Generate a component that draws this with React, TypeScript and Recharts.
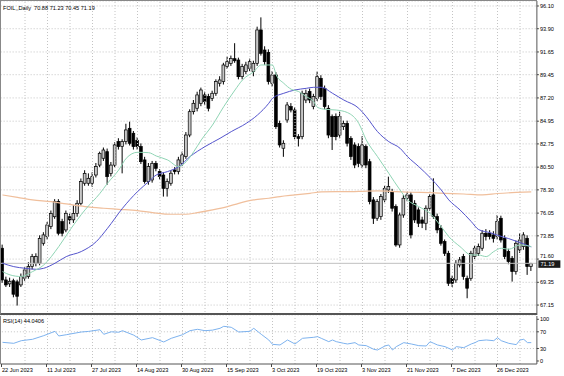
import React from 'react';
import { ComposedChart, Bar, Line, XAxis, YAxis, CartesianGrid, ReferenceLine } from 'recharts';

const opens = [72.65,69.58,69.2,69.5,69.4,69.1,69.75,69.9,70.87,71.2,71.2,73.13,73.8,74.74,75.7,77.16,75.23,74.42,75.7,75.4,76.0,77.0,78.94,78.94,78.94,79.74,80.7,81.36,82.0,79.9,80.7,82.97,82.49,82.97,84.26,83.78,83.1,82.49,81.2,79.1,79.26,80.87,80.07,79.74,78.45,78.94,80.23,80.07,80.87,81.52,83.61,85.87,86.2,86.68,87.49,87.33,87.16,87.65,88.62,88.78,90.23,90.55,91.0,90.87,89.26,89.75,90.07,89.75,90.55,93.78,91.84,91.6,88.62,89.42,84.74,82.33,85.07,86.36,86.03,83.45,83.45,87.0,87.81,86.36,87.16,89.1,88.13,86.2,85.39,85.39,83.61,84.42,84.74,83.29,82.65,82.49,80.71,82.49,81.03,77.33,75.55,75.71,77.33,78.29,78.13,76.68,72.97,75.87,77.49,77.81,77.0,76.36,75.39,75.07,76.52,77.81,75.71,74.58,73.29,72.16,69.74,69.58,71.03,71.84,69.74,69.74,71.84,72.16,72.65,74.1,74.1,73.94,73.78,75.55,73.61,72.33,71.68,70.39,72.49,72.81,73.61,70.88];
const highs = [73.0,69.9,69.8,69.7,69.6,70.2,70.8,71.3,72.1,72.16,73.9,74.2,75.2,76.3,77.4,77.4,75.5,76.3,76.0,76.8,77.3,79.4,80.2,79.9,80.0,80.9,82.0,82.4,82.3,81.0,82.9,83.3,83.2,84.7,84.9,84.0,83.4,82.8,81.5,80.9,81.1,81.1,80.3,80.0,79.4,80.2,80.5,81.5,82.0,83.9,86.1,87.0,87.8,88.2,87.8,87.6,87.9,89.0,89.3,90.6,91.2,91.3,92.5,91.1,90.5,90.7,91.0,90.8,94.1,95.0,92.2,91.9,89.8,89.7,85.0,83.1,86.8,86.7,86.3,83.7,87.9,88.0,88.1,87.6,89.75,89.4,88.4,86.5,85.6,85.7,85.87,85.0,85.0,83.5,82.9,82.8,83.5,82.7,81.3,77.6,77.4,77.9,78.7,79.58,78.4,76.9,76.1,77.8,78.1,78.1,77.3,76.6,75.7,76.8,77.9,79.42,76.0,74.9,73.5,72.4,70.0,71.5,71.8,72.1,70.0,72.4,72.9,73.1,74.4,74.5,74.4,74.3,75.87,75.8,73.9,72.6,71.9,73.4,74.1,74.2,73.9,71.23];
const lows = [69.3,68.9,68.9,67.9,67.1,68.9,69.5,69.7,70.6,70.9,71.0,72.9,73.5,74.5,75.5,73.9,73.8,74.2,75.0,75.1,75.7,76.8,78.7,78.7,78.6,79.5,80.5,81.1,78.8,79.6,80.5,82.2,79.9,82.7,82.6,82.2,82.2,80.8,78.9,78.8,79.0,80.1,79.3,77.65,77.65,78.7,79.8,79.8,80.6,81.3,83.4,85.6,85.9,86.4,86.5,85.9,86.9,87.4,88.3,88.5,90.0,90.3,90.6,89.0,89.0,89.5,89.8,89.3,90.3,91.3,90.4,88.5,88.3,84.2,82.4,81.5,84.8,85.8,83.2,82.5,83.2,86.7,86.7,86.1,86.9,87.0,86.1,83.3,82.16,83.1,83.3,84.1,82.5,81.2,80.4,80.5,80.4,80.4,76.9,75.0,75.3,75.4,77.1,78.0,76.2,72.8,72.7,75.6,77.2,73.6,75.1,74.7,74.6,74.4,76.3,75.5,74.1,72.9,71.9,69.0,68.9,69.3,70.8,69.6,67.81,69.5,71.6,71.9,72.4,73.4,73.5,73.2,73.5,73.2,71.6,71.1,69.42,70.1,72.2,72.5,70.07,70.45];
const closes = [69.58,69.1,69.45,68.2,68.0,69.9,70.55,70.87,71.84,71.84,73.6,73.94,74.9,76.0,77.16,74.1,74.1,76.03,75.4,76.0,77.0,79.1,79.9,79.42,79.58,80.55,81.84,82.16,79.58,80.7,82.65,82.49,82.97,84.1,82.81,82.49,82.49,81.03,79.1,80.55,80.87,80.39,79.58,78.45,79.1,79.91,80.07,81.2,81.68,83.61,85.87,86.68,87.49,87.97,86.84,86.2,87.65,88.78,88.94,90.39,90.71,91.03,90.8,89.26,90.23,90.39,90.71,90.55,93.78,91.52,90.71,88.78,89.42,84.42,82.65,82.81,86.52,86.03,83.45,83.29,87.65,87.65,87.0,87.33,89.26,87.33,86.36,83.61,83.45,83.45,85.39,84.74,82.81,81.52,80.71,80.87,82.65,80.71,77.16,75.55,77.16,77.65,78.45,78.62,76.52,72.97,75.87,77.49,77.81,73.94,75.39,75.07,75.07,76.52,77.65,75.71,74.42,73.13,72.16,69.26,69.26,71.2,71.52,69.91,68.78,72.16,72.65,72.81,74.1,73.78,73.78,73.61,75.23,73.45,71.84,71.36,70.39,73.13,73.45,73.94,70.87,71.19];

// moving averages read at sample bars: [bar index, value]
const maFast = [[0,70.39],[2,70.07],[5,69.91],[8,70.39],[11,71.03],[15,72.81],[18,74.42],[22,76.36],[26,77.97],[28,78.94],[31,80.23],[33,81.36],[36,81.94],[39,81.9],[41,81.58],[44,81.2],[47,80.55],[49,81.03],[51,82.0],[53,83.13],[56,84.58],[59,86.36],[62,87.97],[64,88.94],[67,89.75],[69,90.39],[72,90.39],[73,89.42],[75,88.62],[77,88.04],[79,87.81],[81,87.33],[83,86.84],[84,86.29],[86,86.1],[89,86.03],[92,85.78],[95,84.74],[97,83.13],[100,81.52],[103,79.91],[106,78.29],[108,77.33],[111,76.68],[114,76.03],[117,74.74],[119,73.78],[122,72.81],[125,72.0],[127,71.99],[129,71.84],[131,72.33],[133,72.65],[135,72.55],[138,72.97],[141,72.81]];
const maMid = [[0,71.2],[3,70.87],[6,70.71],[9,70.61],[11,70.71],[14,71.2],[17,71.84],[21,72.33],[25,73.29],[28,74.58],[32,76.52],[36,78.13],[39,79.1],[41,79.74],[44,80.07],[47,80.55],[50,81.52],[54,82.49],[58,83.29],[61,83.94],[65,84.74],[68,85.55],[71,86.68],[72,87.16],[75,87.65],[78,87.97],[81,88.13],[83,88.23],[85,88.23],[88,87.65],[91,87.0],[95,86.2],[97,85.39],[100,83.94],[103,82.97],[106,82.33],[108,81.52],[111,80.55],[114,79.5],[117,78.29],[119,77.33],[122,76.36],[125,75.23],[127,74.45],[130,74.16],[132,73.91],[135,73.58],[138,73.2],[141,72.78]];
const maSlow = [[0,77.81],[4,77.58],[8,77.33],[13,77.16],[17,76.94],[22,76.68],[27,76.52],[31,76.42],[36,76.29],[40,76.1],[45,75.94],[49,75.94],[52,76.1],[56,76.36],[60,76.68],[63,77.0],[67,77.33],[71,77.49],[74,77.65],[78,77.81],[82,77.97],[85,78.1],[89,78.13],[93,78.13],[96,78.16],[100,78.2],[105,78.13],[109,78.07],[114,78.03],[118,77.97],[123,77.9],[128,77.81],[132,77.95],[137,78.05],[141,78.1]];
const rsi14 = [[0,44.8],[3,42.4],[5,48.7],[8,52],[11,60.8],[14,71.2],[15,60],[17,63],[21,69.5],[23,71],[26,75],[27,64],[29,70],[31,69],[32,72.7],[35,62],[37,50.4],[40,56],[43,45.6],[45,54.4],[48,63],[50,72.7],[52,76],[54,72.7],[56,74],[58,78.4],[59,83.2],[61,80.8],[63,69.5],[66,71.2],[67,78.4],[69,64],[71,50.4],[72,40],[74,38.4],[76,50.4],[78,40.8],[80,54.4],[83,56.8],[84,58.4],[85,54.4],[87,46.4],[88,50.4],[89,46.4],[91,42.4],[92,40.8],[94,44],[95,38.4],[97,36.8],[99,28],[100,26.4],[102,36],[103,38.4],[104,26.4],[105,34.4],[107,44],[109,40.8],[111,36.8],[113,36],[114,46.4],[115,42.4],[116,38.4],[118,34.4],[120,26.4],[121,34.4],[123,32],[125,40.8],[126,44],[127,48.7],[129,50.4],[131,48.7],[132,56],[133,48.7],[135,42.4],[137,39.2],[138,50.4],[139,52],[140,44],[141,44.04]];

const priceTicks = [96.10, 93.90, 91.65, 89.45, 87.20, 84.95, 82.75, 80.50, 78.30, 76.05, 73.85, 71.60, 69.35, 67.15];
const rsiTicks = [100, 70, 30, 0];
const dateLabels = ['22 Jun 2023', '11 Jul 2023', '27 Jul 2023', '14 Aug 2023', '30 Aug 2023', '15 Sep 2023', '3 Oct 2023', '19 Oct 2023', '3 Nov 2023', '21 Nov 2023', '7 Dec 2023', '26 Dec 2023'];
const lastPrice = 71.19;
const headerText = 'FOIL,,Daily  70.88 71.23 70.45 71.19';
const rsiText = 'RSI(14) 44.0406';

const FONT = '"Liberation Sans", Arial, sans-serif';
const FS = 5.6;
const GRID = '#c4c4c4';

const N = opens.length + 1;
const data: any[] = Array.from({ length: N }, (_, i) => ({
  i,
  open: opens[i],
  high: highs[i],
  low: lows[i],
  close: closes[i],
  range: i < opens.length ? [lows[i], highs[i]] : null,
  fast: null, mid: null, slow: null, rsi: null,
}));
maFast.forEach(([i, v]) => { data[i].fast = v; });
maMid.forEach(([i, v]) => { data[i].mid = v; });
maSlow.forEach(([i, v]) => { data[i].slow = v; });
rsi14.forEach(([i, v]) => { data[i].rsi = v; });

const dateTicks = dateLabels.map((_, k) => k * 12);
const gridIdx: number[] = [];
for (let i = 6; i < N; i += 6) gridIdx.push(i);

const Candle = (props: any) => {
  const { x, y, width, height, payload } = props;
  if (!payload || payload.open == null) return null;
  const { open, close, high, low } = payload;
  const k = height / (high - low);
  const yo = y + (high - open) * k;
  const yc = y + (high - close) * k;
  const cx = x + width / 2;
  const bull = close >= open;
  const top = Math.min(yo, yc);
  const bh = Math.max(Math.abs(yc - yo), 1);
  return (
    <g>
      <line x1={cx} x2={cx} y1={y} y2={y + height} stroke="#000" strokeWidth={1} />
      <rect x={cx - 1.4} y={top} width={2.8} height={bh} fill={bull ? '#c8c8c8' : '#000'} stroke="#000" strokeWidth={0.7} />
    </g>
  );
};

const LastLabel = (props: any) => {
  const vb = props.viewBox || {};
  const x = (vb.x || 0) + (vb.width || 0);
  const y = vb.y || 0;
  return (
    <g>
      <rect x={x + 1.5} y={y - 3} width={22} height={7.5} fill="#1a1a1a" />
      <text x={x + 3.5} y={y + 0.9} dy="0.36em" fill="#fff" fontSize={FS} fontFamily={FONT}>{lastPrice.toFixed(2)}</text>
    </g>
  );
};

const DateTick = (props: any) => {
  const { x, y, payload } = props;
  const k = dateTicks.indexOf(payload.value);
  if (k < 0) return null;
  return (
    <g>
      <line x1={x - 1} x2={x - 1} y1={y} y2={y + 3} stroke="#444" strokeWidth={1} />
      <text x={x - 0.5} y={y + 6} dy="0.36em" fontSize={FS} fontFamily={FONT} fill="#000" textAnchor="start">{dateLabels[k]}</text>
    </g>
  );
};

const PriceTick = (props: any) => {
  const { x, y, payload } = props;
  const v = Number(payload.value);
  const nudge = Math.abs(v - lastPrice) < 0.6 ? -2.6 : 0;
  return (
    <text x={x} y={y + nudge} dy="0.36em" fontSize={FS} fontFamily={FONT} fill="#000" textAnchor="start">{v.toFixed(2)}</text>
  );
};

const RsiTick = (props: any) => {
  const { x, y, payload } = props;
  return (
    <text x={x} y={y} dy="0.36em" fontSize={FS} fontFamily={FONT} fill="#000" textAnchor="start">{payload.value}</text>
  );
};

const LEFT = 0.625;
const AXIS_W = 564 - LEFT - 3.75 * N;

export default function App() {
  return (
    <div style={{ position: 'absolute', left: 0, top: 0, width: 564, height: 376, background: '#fff', overflow: 'hidden' }}>
      <div style={{ position: 'absolute', left: 0, top: 0 }}>
        <ComposedChart width={564} height={316} data={data} margin={{ top: 1, right: 0, bottom: 1, left: LEFT }}>
          <CartesianGrid horizontal vertical={false} stroke={GRID} strokeDasharray="1 2" />
          <XAxis dataKey="i" type="category" scale="band" hide />
          <YAxis
            orientation="right"
            width={AXIS_W}
            domain={[66.187, 96.584]}
            ticks={priceTicks}
            interval={0}
            allowDataOverflow
            tick={<PriceTick />}
            tickSize={2}
            tickMargin={1}
            tickLine={{ stroke: '#444' }}
            axisLine={{ stroke: '#555' }}
          />
          {gridIdx.map((g) => (
            <ReferenceLine key={'v' + g} x={g} stroke={GRID} strokeDasharray="1 2" />
          ))}
          <ReferenceLine y={lastPrice} stroke="#c0c0c0" label={<LastLabel />} />
          <Bar dataKey="range" barSize={3} shape={Candle} isAnimationActive={false} />
          <Line dataKey="slow" type="monotone" stroke="#f0bf9c" strokeWidth={1.2} dot={false} connectNulls isAnimationActive={false} />
          <Line dataKey="mid" type="monotone" stroke="#5454cc" strokeWidth={1} dot={false} connectNulls isAnimationActive={false} />
          <Line dataKey="fast" type="monotone" stroke="#8fd4b4" strokeWidth={1} dot={false} connectNulls isAnimationActive={false} />
        </ComposedChart>
      </div>
      <div style={{ position: 'absolute', left: 0, top: 316 }}>
        <ComposedChart width={564} height={60} data={data} margin={{ top: 0, right: 0, bottom: 0, left: LEFT }}>
          <XAxis
            dataKey="i"
            type="category"
            scale="band"
            ticks={dateTicks}
            interval={0}
            height={12}
            tick={<DateTick />}
            tickLine={false}
            tickSize={0}
            tickMargin={0}
            axisLine={{ stroke: '#555' }}
          />
          <YAxis
            orientation="right"
            width={AXIS_W}
            domain={[-7.2, 107.9]}
            ticks={rsiTicks}
            interval={0}
            allowDataOverflow
            tick={<RsiTick />}
            tickSize={2}
            tickMargin={1}
            tickLine={{ stroke: '#444' }}
            axisLine={{ stroke: '#555' }}
          />
          {gridIdx.map((g) => (
            <ReferenceLine key={'rv' + g} x={g} stroke={GRID} strokeDasharray="1 2" />
          ))}
          <ReferenceLine y={70} stroke={GRID} strokeDasharray="1 2" />
          <ReferenceLine y={30} stroke={GRID} strokeDasharray="1 2" />
          <Line dataKey="rsi" type="linear" stroke="#7db2ee" strokeWidth={1} dot={false} connectNulls isAnimationActive={false} />
        </ComposedChart>
      </div>
      <div style={{ position: 'absolute', left: 0, top: 0, width: 537, height: 315, borderLeft: '1px solid #888', borderTop: '1px solid #888', borderBottom: '2px solid #555', boxSizing: 'border-box', pointerEvents: 'none' }} />
      <div style={{ position: 'absolute', left: 0, top: 316, width: 2, height: 48, borderLeft: '1px solid #888', boxSizing: 'border-box', pointerEvents: 'none' }} />
      <div style={{ position: 'absolute', left: 3, top: 4, fontFamily: FONT, fontSize: FS, lineHeight: '8px', color: '#000', whiteSpace: 'pre' }}>{headerText}</div>
      <div style={{ position: 'absolute', left: 3, top: 317, fontFamily: FONT, fontSize: FS, lineHeight: '8px', color: '#000', whiteSpace: 'pre' }}>{rsiText}</div>
    </div>
  );
}
